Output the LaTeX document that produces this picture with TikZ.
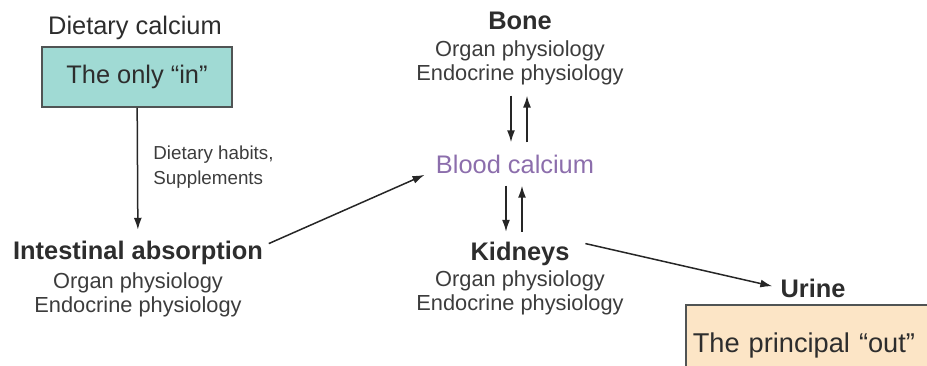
\documentclass[tikz,border=0pt]{standalone}
\usepackage{fontspec}
\setmainfont{Liberation Sans}
\usetikzlibrary{arrows.meta}
\definecolor{tealbox}{RGB}{160,218,212}
\definecolor{peachbox}{RGB}{252,229,198}
\definecolor{boxline}{RGB}{80,84,84}
\definecolor{inktext}{RGB}{45,45,45}
\definecolor{subtext}{RGB}{60,60,60}
\definecolor{bloodtext}{RGB}{140,110,172}

\begin{document}
\begin{tikzpicture}[x=0.5pt,y=-0.5pt,
    label/.style={inner sep=0pt, text=inktext, font=\fontsize{12.7}{15}\selectfont},
    head/.style={label, font=\fontsize{12.7}{15}\selectfont\bfseries},
    sub/.style={inner sep=0pt, text=subtext, align=center, font=\fontsize{10.9}{12.1}\selectfont},
    note/.style={inner sep=0pt, text=subtext, align=left, font=\fontsize{9.4}{12.4}\selectfont},
    arr/.style={-{Latex[length=6pt,width=4pt]}, line width=0.75pt, black!85}]
    % --- Cadre de l'image ---
    \path[use as bounding box, clip] (0,0) rectangle (927,365);

    % --- Entree : calcium alimentaire ---
    \node[label] (dietary) at (135,28) {Dietary calcium};
    \node[label, draw=boxline, line width=0.8pt, fill=tealbox, minimum width=95pt, minimum height=30pt] (onlyin) at (137,77) {The only “in”};
    \node[note, anchor=west] (habits) at (153,167) {Dietary habits,\\Supplements};

    % --- Absorption intestinale ---
    \node[head] (intest) at (138,253) {Intestinal absorption};
    \node[sub] (intestsub) at (138,295) {Organ physiology\\Endocrine physiology};

    % --- Os, sang, reins ---
    \node[head] (bone) at (520,21) {Bone};
    \node[sub] (bonesub) at (520,63) {Organ physiology\\Endocrine physiology};
    \node[label, text=bloodtext] (blood) at (515,164) {Blood calcium};
    \node[head] (kidney) at (520,254) {Kidneys};
    \node[sub] (kidneysub) at (520,293) {Organ physiology\\Endocrine physiology};

    % --- Sortie : urine ---
    \node[head] (urine) at (813,288) {Urine};
    \node[label, anchor=north west, draw=boxline, line width=0.8pt, fill=peachbox, inner xsep=3.5pt, text width=150pt, minimum height=41pt, font=\fontsize{13.6}{15}\selectfont] (principal) at (685,304) {The principal “out”};

    % --- Fleches ---
    \draw[arr, shorten >=5.5pt] (onlyin) -- (intest);
    \draw[arr, shorten <=3pt, shorten >=6pt] ([yshift=3.5pt]intest.east) -- ([yshift=-3pt]blood.west);
    \draw[arr, shorten <=8pt, shorten >=4pt] ([yshift=7pt]kidney.east) -- (urine.west);

    % échanges os <-> sang <-> reins
    \foreach \src/\dst/\a/\b in {bonesub/blood/5pt/6pt, blood/kidney/6pt/5pt}{
        \draw[arr, shorten <=\a, shorten >=\b] ([xshift=-4.5pt]\src.south) -- ([xshift=-4.5pt]\src.south |- \dst.north);
        \draw[arr, shorten <=\b, shorten >=\a] ([xshift=3.5pt]\src.south |- \dst.north) -- ([xshift=3.5pt]\src.south);
    }
\end{tikzpicture}
\end{document}
